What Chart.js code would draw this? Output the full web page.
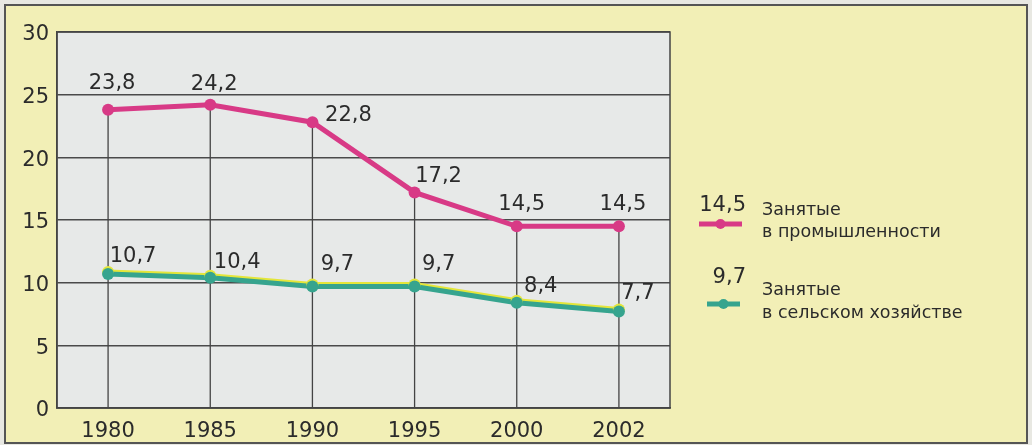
<!DOCTYPE html>
<html>
<head>
<meta charset="utf-8">
<script src="https://cdn.jsdelivr.net/npm/chart.js@4/dist/chart.umd.min.js"></script>
<style>
    html, body { margin: 0; padding: 0; background: #e8e8e2; }
    #wrap { width: 1032px; height: 445px; position: relative; }
</style>
</head>
<body>
<div id="wrap"><canvas id="zanyatost" width="1032" height="445"></canvas></div>
<script>
// Данные графика
const years = ['1980', '1985', '1990', '1995', '2000', '2002'];
const promyshlennost = [23.8, 24.2, 22.8, 17.2, 14.5, 14.5];
const selskoe = [10.7, 10.4, 9.7, 9.7, 8.4, 7.7];
const yTicks = [0, 5, 10, 15, 20, 25, 30];
const legendNames = [['Занятые', 'в промышленности'], ['Занятые', 'в сельском хозяйстве']];
const legendValues = ['14,5', '9,7'];

// смещения подписей значений (dx, dy) относительно точки
const labelShift = [
    [[4, -26], [4, -20], [36, -7], [24, -16], [5, -22], [4, -22]],
    [[25, -17], [27, -15], [25, -22], [24, -22], [24, -16], [19, -18]],
];

const textColor = '#2b2b2b';
const fontFamily = '"DejaVu Sans", "Liberation Sans", Arial, sans-serif';
const fmt = v => String(v).replace('.', ',');

// фон, рамка, вертикальные линии
const backgroundPlugin = {
    id: 'fon',
    beforeDraw(chart) {
        const { ctx, chartArea: a } = chart;
        ctx.save();
        ctx.fillStyle = '#f2efb6';
        ctx.fillRect(5, 5, 1022, 438);
        ctx.strokeStyle = '#555';
        ctx.lineWidth = 2;
        ctx.strokeRect(5, 5, 1022, 438);
        ctx.fillStyle = '#e7e9e8';
        ctx.fillRect(a.left, a.top, a.right - a.left, a.bottom - a.top);
        ctx.restore();
    },
    beforeDatasetsDraw(chart) {
        const { ctx, chartArea: a, scales } = chart;
        ctx.save();
        ctx.strokeStyle = '#444';
        ctx.lineWidth = 1.3;
        promyshlennost.forEach((v, i) => {
            const x = scales.x.getPixelForValue(i);
            ctx.beginPath();
            ctx.moveTo(x, scales.y.getPixelForValue(v));
            ctx.lineTo(x, a.bottom);
            ctx.stroke();
        });
        ctx.lineWidth = 1.5;
        ctx.strokeRect(a.left, a.top, a.right - a.left, a.bottom - a.top);
        ctx.restore();
    },
    beforeDatasetDraw(chart, args) {
        if (args.index === 1) {
            chart.ctx.save();
            chart.ctx.shadowColor = '#e4e63a';
            chart.ctx.shadowOffsetY = -2;
        }
    },
    afterDatasetDraw(chart, args) {
        if (args.index === 1) chart.ctx.restore();
    },
};

// подписи значений и легенда
const labelsPlugin = {
    id: 'podpisi',
    afterDraw(chart) {
        const ctx = chart.ctx;
        ctx.save();
        ctx.fillStyle = textColor;
        ctx.font = '21px ' + fontFamily;
        ctx.textAlign = 'center';
        ctx.textBaseline = 'middle';
        chart.data.datasets.forEach((ds, di) => {
            chart.getDatasetMeta(di).data.forEach((pt, i) => {
                const s = labelShift[di][i];
                ctx.fillText(fmt(ds.data[i]), pt.x + s[0], pt.y + s[1]);
            });
        });

        // легенда
        const rows = [
            { valY: 211, lineY: 224, x1: 699, x2: 742, nameY: [215, 237] },
            { valY: 283, lineY: 304, x1: 707, x2: 740, nameY: [295, 318] },
        ];
        rows.forEach((r, i) => {
            const ds = chart.data.datasets[i];
            ctx.textBaseline = 'alphabetic';
            ctx.textAlign = 'right';
            ctx.font = '21px ' + fontFamily;
            ctx.fillStyle = textColor;
            ctx.fillText(legendValues[i], 746, r.valY);
            ctx.textAlign = 'left';
            ctx.font = '17.5px ' + fontFamily;
            ctx.fillText(legendNames[i][0], 762, r.nameY[0]);
            ctx.fillText(legendNames[i][1], 762, r.nameY[1]);
            ctx.strokeStyle = ds.borderColor;
            ctx.lineWidth = 5;
            ctx.beginPath();
            ctx.moveTo(r.x1, r.lineY);
            ctx.lineTo(r.x2, r.lineY);
            ctx.stroke();
            ctx.fillStyle = ds.borderColor;
            ctx.beginPath();
            ctx.arc((r.x1 + r.x2) / 2, r.lineY, 5, 0, Math.PI * 2);
            ctx.fill();
        });
        ctx.restore();
    },
};

const ctx = document.getElementById('zanyatost').getContext('2d');
new Chart(ctx, {
    type: 'line',
    data: {
        labels: years,
        datasets: [
            {
                label: 'Занятые в промышленности',
                data: promyshlennost,
                borderColor: '#d83a86',
                backgroundColor: '#d83a86',
                borderWidth: 5,
                pointRadius: 6,
                pointBorderWidth: 0,
                tension: 0,
            },
            {
                label: 'Занятые в сельском хозяйстве',
                data: selskoe,
                borderColor: '#36a48e',
                backgroundColor: '#36a48e',
                borderWidth: 5,
                pointRadius: 6,
                pointBorderWidth: 0,
                tension: 0,
            },
        ],
    },
    options: {
        responsive: false,
        animation: false,
        layout: { padding: { top: 32, right: 362, left: 0, bottom: 0 } },
        plugins: {
            legend: { display: false },
            tooltip: { enabled: false },
        },
        scales: {
            x: {
                offset: true,
                grid: { display: false },
                border: { display: true, color: '#444', width: 1.5 },
                ticks: {
                    color: textColor,
                    padding: 3,
                    font: { family: fontFamily, size: 21 },
                },
                afterFit(scale) { scale.height = 37; },
            },
            y: {
                min: 0,
                max: 30,
                afterBuildTicks(scale) { scale.ticks = yTicks.map(v => ({ value: v })); },
                grid: { color: '#4a4a4a', lineWidth: 1.5, drawTicks: false },
                border: { display: true, color: '#444', width: 1.5 },
                ticks: {
                    color: textColor,
                    padding: 8,
                    labelOffset: 3,
                    font: { family: fontFamily, size: 21 },
                },
                afterFit(scale) { scale.width = 57; },
            },
        },
    },
    plugins: [backgroundPlugin, labelsPlugin],
});
</script>
</body>
</html>
